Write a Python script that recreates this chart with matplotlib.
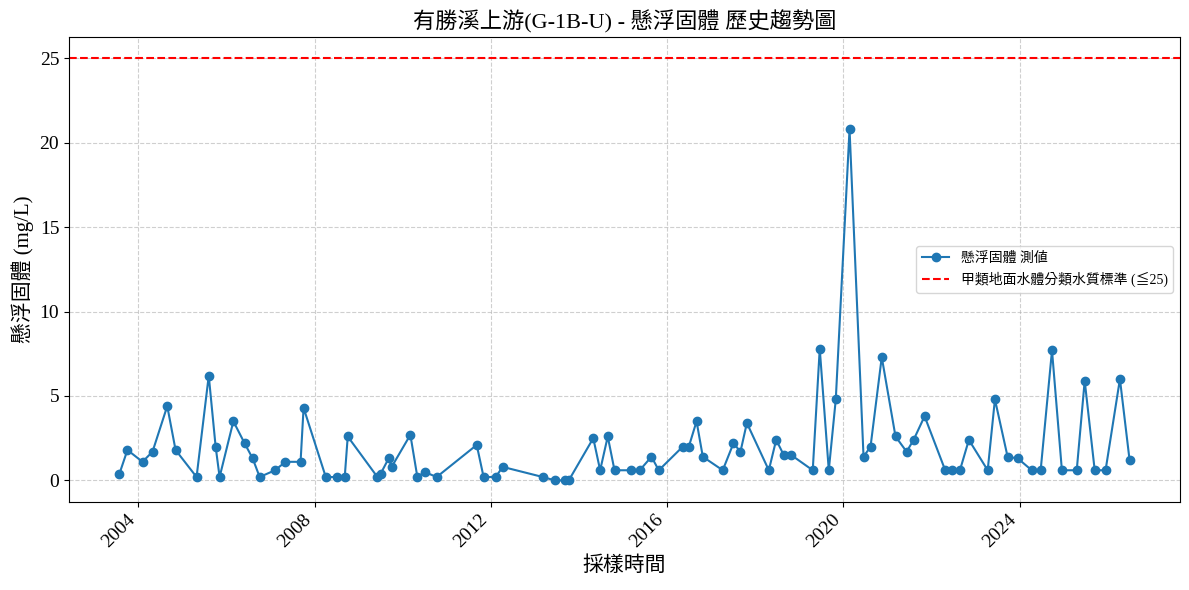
import matplotlib
matplotlib.use("Agg")
import matplotlib.pyplot as plt
import matplotlib.dates as mdates
import pandas as pd

plt.rcParams['font.family'] = ['Liberation Serif', 'Noto Sans CJK TC', 'DejaVu Sans']

# sampling dates and suspended solids (mg/L)
dates = [
    "2003-07-29", "2003-10-03", "2004-02-05", "2004-04-28", "2004-08-28", "2004-11-05",
    "2005-04-28", "2005-08-07", "2005-10-03", "2005-11-05", "2006-02-27", "2006-05-31",
    "2006-08-06", "2006-10-03", "2007-02-07", "2007-05-05", "2007-09-07", "2007-10-02",
    "2008-04-03", "2008-07-02", "2008-09-07", "2008-10-02", "2009-06-05", "2009-07-02",
    "2009-09-06", "2009-10-01", "2010-03-05", "2010-05-02", "2010-07-01", "2010-10-09",
    "2011-09-06", "2011-11-02", "2012-02-10", "2012-04-08", "2013-03-07", "2013-06-15",
    "2013-09-10", "2013-10-08", "2014-04-29", "2014-06-25", "2014-08-27", "2014-10-22",
    "2015-03-11", "2015-05-19", "2015-08-24", "2015-10-24", "2016-05-10", "2016-06-29",
    "2016-09-01", "2016-10-23", "2017-04-06", "2017-07-04", "2017-08-31", "2017-10-23",
    "2018-04-23", "2018-06-23", "2018-08-25", "2018-10-26", "2019-04-22", "2019-06-19",
    "2019-09-02", "2019-10-30", "2020-02-21", "2020-06-16", "2020-08-13", "2020-11-14",
    "2021-03-08", "2021-06-08", "2021-08-05", "2021-11-04", "2022-04-24", "2022-06-18",
    "2022-08-24", "2022-11-06", "2023-04-11", "2023-06-10", "2023-09-23", "2023-12-17",
    "2024-04-10", "2024-06-23", "2024-09-25", "2024-12-16", "2025-04-18", "2025-06-23",
    "2025-09-14", "2025-12-13", "2026-04-11", "2026-06-30",
]
ss_values = [
    0.4, 1.8, 1.1, 1.7, 4.4, 1.8,
    0.2, 6.2, 2.0, 0.2, 3.5, 2.2,
    1.3, 0.2, 0.6, 1.1, 1.1, 4.3,
    0.2, 0.2, 0.2, 2.6, 0.2, 0.4,
    1.3, 0.8, 2.7, 0.2, 0.5, 0.2,
    2.1, 0.2, 0.2, 0.8, 0.2, 0.0,
    0.0, 0.0, 2.5, 0.6, 2.6, 0.6,
    0.6, 0.6, 1.4, 0.6, 2.0, 2.0,
    3.5, 1.4, 0.6, 2.2, 1.7, 3.4,
    0.6, 2.4, 1.5, 1.5, 0.6, 7.8,
    0.6, 4.8, 20.8, 1.4, 2.0, 7.3,
    2.6, 1.7, 2.4, 3.8, 0.6, 0.6,
    0.6, 2.4, 0.6, 4.8, 1.4, 1.3,
    0.6, 0.6, 7.7, 0.6, 0.6, 5.9,
    0.6, 0.6, 6.0, 1.2,
]
standard = 25

x = pd.to_datetime(dates)

fig, ax = plt.subplots(figsize=(11.89, 5.9), dpi=100)
ax.plot(x, ss_values, marker="o", color="#1f77b4", linewidth=1.5, markersize=6,
        label="懸浮固體 測値")
ax.axhline(standard, color="red", linestyle="--", linewidth=1.5,
           label="甲類地面水體分類水質標準 (≦25)")

ax.set_title("有勝溪上游(G-1B-U) - 懸浮固體 歷史趨勢圖", fontsize=16)
ax.set_xlabel("採樣時間", fontsize=15)
ax.set_ylabel("懸浮固體 (mg/L)", fontsize=15)
ax.tick_params(labelsize=14)
ax.xaxis.set_major_locator(mdates.YearLocator(4))
ax.xaxis.set_major_formatter(mdates.DateFormatter("%Y"))
plt.setp(ax.get_xticklabels(), rotation=45, ha="right")
ax.grid(True, linestyle="--", alpha=0.6)
ax.legend(loc="center right", fontsize=10)

fig.subplots_adjust(left=0.058, right=0.9925, top=0.937, bottom=0.150)
plt.savefig("out.png")
